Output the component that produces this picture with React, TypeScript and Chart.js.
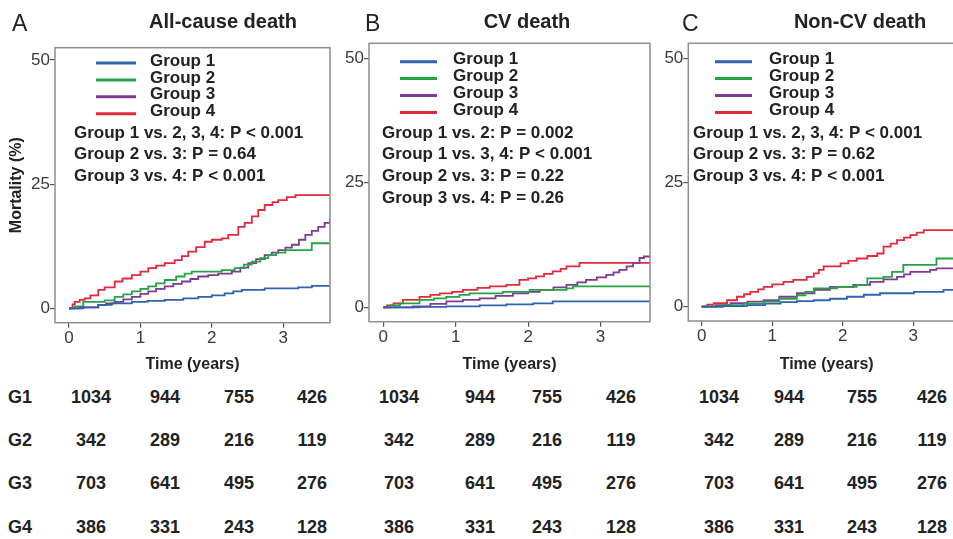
import React, { useEffect, useRef } from "react";
import { Chart, registerables } from "chart.js";

Chart.register(...registerables);

const FONT = '"Liberation Sans", Arial, Helvetica, sans-serif';

const groupLabels = ["Group 1", "Group 2", "Group 3", "Group 4"];
const groupColors = ["#2f63ad", "#25a446", "#7e3b93", "#e12a3c"];
const xTicks = [0, 1, 2, 3];
const yTicks = [0, 25, 50];

// ---- Panel A: All-cause death ([time in years, cumulative mortality %]) ----
const allCauseG1 = [[0, 0], [0.15, 0.2], [0.41, 0.7], [0.6, 1.0], [0.88, 1.3], [1.1, 1.5], [1.34, 1.7], [1.6, 2.0], [1.81, 2.3], [2.0, 2.6], [2.18, 3.0], [2.3, 3.4], [2.42, 3.7], [2.74, 4.0], [3.21, 4.2], [3.4, 4.5], [3.655, 4.5]];
const allCauseG2 = [[0, 0], [0.08, 0.4], [0.2, 1.3], [0.5, 1.6], [0.64, 2.3], [0.76, 2.8], [0.88, 3.4], [1.0, 3.9], [1.11, 4.4], [1.22, 5.0], [1.34, 5.7], [1.5, 6.4], [1.62, 7.0], [1.72, 7.4], [2.14, 7.7], [2.32, 8.1], [2.45, 8.8], [2.56, 9.4], [2.68, 10.1], [2.79, 10.7], [2.9, 11.2], [3.03, 11.7], [3.21, 11.7], [3.4, 13.1], [3.655, 13.1]];
const allCauseG3 = [[0, 0], [0.2, 0.2], [0.41, 0.7], [0.52, 1.0], [0.64, 1.3], [0.76, 1.8], [0.88, 2.3], [1.0, 2.9], [1.11, 3.4], [1.22, 3.9], [1.34, 4.4], [1.46, 4.9], [1.58, 5.4], [1.7, 5.9], [1.81, 6.4], [1.95, 6.7], [2.09, 7.0], [2.28, 7.4], [2.4, 8.2], [2.51, 9.1], [2.62, 9.9], [2.74, 10.7], [2.84, 11.2], [2.93, 11.7], [3.03, 12.2], [3.12, 12.8], [3.22, 13.8], [3.31, 14.8], [3.4, 15.6], [3.49, 16.4], [3.58, 17.2], [3.655, 18.1]];
const allCauseG4 = [[0, 0], [0.05, 0.8], [0.08, 1.3], [0.15, 1.7], [0.22, 2.0], [0.3, 2.6], [0.41, 3.7], [0.5, 4.2], [0.64, 5.4], [0.75, 6.0], [0.88, 6.7], [1.0, 7.4], [1.11, 8.1], [1.22, 8.6], [1.34, 9.1], [1.48, 9.7], [1.58, 10.5], [1.67, 11.4], [1.78, 12.3], [1.9, 13.4], [2.0, 13.8], [2.14, 14.1], [2.23, 14.8], [2.37, 16.4], [2.46, 17.2], [2.56, 18.5], [2.65, 19.8], [2.74, 20.8], [2.85, 21.4], [2.93, 21.8], [3.05, 22.4], [3.17, 22.8], [3.655, 22.8]];

// ---- Panel B: CV death ----
const cvG1 = [[0, 0], [0.5, 0.1], [0.87, 0.2], [1.33, 0.4], [1.7, 0.6], [2.07, 0.8], [2.34, 1.2], [3.684, 1.2]];
const cvG2 = [[0, 0], [0.1, 0.4], [0.23, 0.8], [0.5, 1.5], [0.7, 1.8], [0.87, 2.1], [1.05, 2.5], [1.19, 2.8], [1.65, 3.1], [2.02, 3.5], [2.53, 3.8], [2.62, 4.2], [3.684, 4.2]];
const cvG3 = [[0, 0], [0.41, 0.2], [0.65, 0.7], [0.87, 1.2], [1.1, 1.5], [1.33, 1.8], [1.55, 2.3], [1.79, 2.8], [2.0, 3.1], [2.16, 3.5], [2.35, 4.0], [2.53, 4.5], [2.68, 5.0], [2.8, 5.5], [2.95, 6.0], [3.08, 6.5], [3.18, 7.0], [3.26, 7.5], [3.36, 8.2], [3.45, 8.9], [3.54, 9.9], [3.6, 10.2], [3.684, 10.2]];
const cvG4 = [[0, 0], [0.05, 0.4], [0.14, 0.8], [0.27, 1.5], [0.5, 2.1], [0.65, 2.5], [0.78, 2.8], [0.95, 3.1], [1.1, 3.5], [1.3, 3.9], [1.47, 4.2], [1.7, 4.5], [1.88, 5.5], [2.0, 5.8], [2.11, 6.2], [2.22, 6.7], [2.34, 7.2], [2.45, 7.7], [2.53, 8.2], [2.71, 8.9], [3.684, 8.9]];

// ---- Panel C: Non-CV death ----
const nonCvG1 = [[0, 0], [0.3, 0.1], [0.64, 0.3], [0.9, 0.6], [1.12, 0.9], [1.35, 1.1], [1.59, 1.3], [1.82, 1.6], [2.06, 2.0], [2.3, 2.4], [2.53, 2.7], [3.01, 3.0], [3.43, 3.4], [3.735, 3.4]];
const nonCvG2 = [[0, 0], [0.3, 0.3], [0.6, 0.6], [0.88, 1.0], [1.1, 1.6], [1.35, 2.3], [1.47, 3.0], [1.59, 3.7], [1.92, 4.0], [2.2, 4.4], [2.35, 5.7], [2.58, 6.0], [2.7, 7.0], [2.86, 8.4], [3.24, 8.4], [3.33, 9.7], [3.735, 9.7]];
const nonCvG3 = [[0, 0], [0.2, 0.3], [0.41, 0.7], [0.65, 1.0], [0.88, 1.3], [1.1, 2.0], [1.35, 2.7], [1.6, 3.4], [1.82, 4.0], [2.15, 4.4], [2.39, 5.0], [2.58, 5.5], [2.77, 6.0], [2.87, 6.5], [2.96, 7.0], [3.24, 7.4], [3.33, 7.7], [3.735, 7.7]];
const nonCvG4 = [[0, 0], [0.08, 0.4], [0.17, 0.7], [0.36, 1.3], [0.5, 2.0], [0.6, 2.5], [0.69, 3.0], [0.8, 3.5], [0.88, 4.0], [1.0, 4.5], [1.16, 5.0], [1.3, 5.4], [1.49, 6.0], [1.59, 6.7], [1.66, 7.4], [1.73, 8.1], [1.97, 8.7], [2.08, 9.2], [2.2, 9.7], [2.35, 10.2], [2.49, 10.7], [2.58, 12.1], [2.68, 12.7], [2.77, 13.4], [2.87, 13.9], [2.96, 14.4], [3.05, 14.9], [3.15, 15.4], [3.735, 15.4]];

const allCausePText = ["Group 1 vs. 2, 3, 4: P < 0.001", "Group 2 vs. 3: P = 0.64", "Group 3 vs. 4: P < 0.001"];
const cvPText = ["Group 1 vs. 2: P = 0.002", "Group 1 vs. 3, 4: P < 0.001", "Group 2 vs. 3: P = 0.22", "Group 3 vs. 4: P = 0.26"];
const nonCvPText = ["Group 1 vs. 2, 3, 4: P < 0.001", "Group 2 vs. 3: P = 0.62", "Group 3 vs. 4: P < 0.001"];

const panelLetters = ["A", "B", "C"];
const panelTitles = ["All-cause death", "CV death", "Non-CV death"];

// Numbers at risk
const riskRowLabels = ["G1", "G2", "G3", "G4"];
const riskG1 = [1034, 944, 755, 426];
const riskG2 = [342, 289, 216, 119];
const riskG3 = [703, 641, 495, 276];
const riskG4 = [386, 331, 243, 128];
const riskRows = [riskG1, riskG2, riskG3, riskG4];

// ---- layout (pixels) ----
const panels = [
  {
    series: [allCauseG1, allCauseG2, allCauseG3, allCauseG4], pText: allCausePText,
    left: 0, width: 335, yAxisWidth: 55, padTop: 47.7, padRight: 5, xAxisHeight: 57.3,
    xMin: -0.196, xMax: 3.655, yMin: -2.9, yMax: 52.48, yTitle: true,
    legTop: 15.3, lineX0: 41, lineX1: 81, textX: 95, pX: 19, pTop: 85.3,
    letterX: 12, titleX: 223, riskX: [91, 165, 239, 312],
  },
  {
    series: [cvG1, cvG2, cvG3, cvG4], pText: cvPText,
    left: 335, width: 325, yAxisWidth: 34, padTop: 43.3, padRight: 10, xAxisHeight: 58.3,
    xMin: -0.198, xMax: 3.684, yMin: -2.89, yMax: 53.0, yTitle: false,
    legTop: 18.4, lineX0: 31, lineX1: 68, textX: 84, pX: 13, pTop: 89.7,
    letterX: 365, titleX: 527, riskX: [399, 480, 547, 621],
  },
  {
    series: [nonCvG1, nonCvG2, nonCvG3, nonCvG4], pText: nonCvPText,
    left: 660, width: 315, yAxisWidth: 28.3, padTop: 43.3, padRight: 10, xAxisHeight: 59,
    xMin: -0.19, xMax: 3.735, yMin: -2.88, yMax: 53.0, yTitle: false,
    legTop: 18.4, lineX0: 26.7, lineX1: 63.7, textX: 80.7, pX: 4.7, pTop: 89.7,
    letterX: 682, titleX: 860, riskX: [719, 789, 862, 932],
  },
];

const CANVAS_H = 380;
const riskRowY = [397, 440, 483, 527];

function PanelChart({ p }: { p: any }) {
  const ref = useRef<HTMLCanvasElement | null>(null);
  useEffect(() => {
    if (!ref.current) return;
    const overlay = {
      id: "overlay",
      afterDatasetsDraw(chart: any) {
        const { ctx, chartArea: a } = chart;
        ctx.save();
        ctx.strokeStyle = "#8e8e8e";
        ctx.lineWidth = 1.5;
        ctx.strokeRect(a.left, a.top, a.right - a.left, a.bottom - a.top);
        ctx.font = `bold 17px ${FONT}`;
        ctx.textBaseline = "middle";
        ctx.textAlign = "left";
        chart.data.datasets.forEach((ds: any, i: number) => {
          const y = a.top + p.legTop + i * 16.9;
          ctx.strokeStyle = ds.borderColor;
          ctx.lineWidth = 3;
          ctx.beginPath();
          ctx.moveTo(a.left + p.lineX0, y);
          ctx.lineTo(a.left + p.lineX1, y);
          ctx.stroke();
          ctx.fillStyle = "#222";
          ctx.fillText(ds.label, a.left + p.textX, y - 2);
        });
        p.pText.forEach((t: string, i: number) => {
          ctx.fillStyle = "#222";
          ctx.fillText(t, a.left + p.pX, a.top + p.pTop + i * 21.8);
        });
        ctx.restore();
      },
    };
    const chart = new Chart(ref.current, {
      type: "line",
      data: {
        datasets: p.series.map((s: number[][], i: number) => ({
          label: groupLabels[i],
          data: s.map(([x, y]) => ({ x, y })),
          borderColor: groupColors[i],
          borderWidth: 1.8,
          pointRadius: 0,
          fill: false,
          stepped: "before",
        })),
      },
      options: {
        animation: false,
        responsive: false,
        maintainAspectRatio: false,
        layout: { padding: { top: p.padTop, right: p.padRight, left: 0, bottom: 0 } },
        plugins: { legend: { display: false }, tooltip: { enabled: false } },
        scales: {
          x: {
            type: "linear",
            min: p.xMin,
            max: p.xMax,
            afterBuildTicks: (s: any) => { s.ticks = xTicks.map((v) => ({ value: v })); },
            afterFit: (s: any) => { s.height = p.xAxisHeight; },
            grid: { drawOnChartArea: false, drawTicks: true, tickLength: 5, color: "#555", lineWidth: 1.2 },
            border: { display: false },
            ticks: { font: { family: FONT, size: 17 }, color: "#3a3a3a", padding: 0, callback: (v: any) => String(v) },
            title: { display: true, text: "Time (years)", color: "#222", font: { family: FONT, size: 16, weight: "bold" }, padding: { top: 0, bottom: 6 } },
          },
          y: {
            type: "linear",
            min: p.yMin,
            max: p.yMax,
            afterBuildTicks: (s: any) => { s.ticks = yTicks.map((v) => ({ value: v })); },
            afterFit: (s: any) => { s.width = p.yAxisWidth; },
            grid: { drawOnChartArea: false, drawTicks: true, tickLength: 5, color: "#555", lineWidth: 1.2 },
            border: { display: false },
            ticks: { font: { family: FONT, size: 17 }, color: "#3a3a3a", padding: 0, callback: (v: any) => String(v) },
            title: { display: p.yTitle, text: "Mortality (%)", color: "#222", font: { family: FONT, size: 16, weight: "bold" }, padding: { top: 7, bottom: 0 } },
          },
        },
      } as any,
      plugins: [overlay],
    });
    return () => chart.destroy();
  }, []);
  return (
    <canvas
      ref={ref}
      width={p.width}
      height={CANVAS_H}
      style={{ position: "absolute", left: p.left, top: 0, width: p.width, height: CANVAS_H }}
    />
  );
}

const centered = (x: number, y: number, extra: any = {}) => ({
  position: "absolute" as const,
  left: x,
  top: y,
  transform: "translate(-50%, -50%)",
  whiteSpace: "nowrap" as const,
  lineHeight: 1,
  ...extra,
});

export default function App() {
  return (
    <div style={{ position: "fixed", left: 0, top: 0, width: 953, height: 539, overflow: "hidden", background: "#fff", fontFamily: FONT, color: "#222" }}>
      {panels.map((p, i) => (
        <PanelChart key={i} p={p} />
      ))}
      {panels.map((p, i) => (
        <React.Fragment key={"t" + i}>
          <div style={{ position: "absolute", left: p.letterX, top: 22.5, transform: "translateY(-50%)", lineHeight: 1, fontSize: 23, whiteSpace: "nowrap" }}>{panelLetters[i]}</div>
          <div style={centered(p.titleX, 21, { fontSize: 20, fontWeight: "bold" })}>{panelTitles[i]}</div>
        </React.Fragment>
      ))}
      {riskRowLabels.map((lab, r) => (
        <div key={"rl" + r} style={{ position: "absolute", left: 8, top: riskRowY[r], transform: "translateY(-50%)", lineHeight: 1, fontSize: 18, fontWeight: "bold", whiteSpace: "nowrap" }}>{lab}</div>
      ))}
      {panels.map((p, pi) =>
        riskRows.map((row, r) =>
          row.map((v, c) => (
            <div key={`r${pi}-${r}-${c}`} style={centered(p.riskX[c], riskRowY[r], { fontSize: 18, fontWeight: "bold" })}>{v}</div>
          ))
        )
      )}
    </div>
  );
}
